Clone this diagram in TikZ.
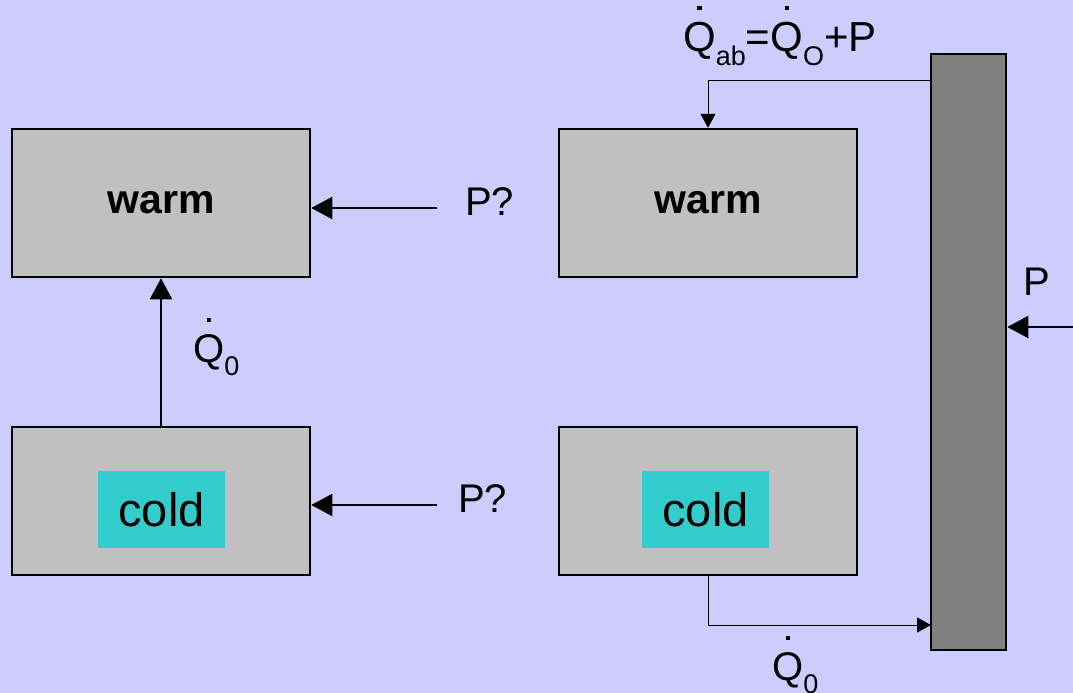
\documentclass[tikz,border=0pt]{standalone}
\usepackage{fontspec}
\setmainfont{Liberation Sans}
\usetikzlibrary{arrows.meta}
\definecolor{bgc}{HTML}{CCCCFF}
\definecolor{boxc}{HTML}{C0C0C0}
\definecolor{barc}{HTML}{808080}
\definecolor{cyanc}{HTML}{33CCCC}
\newcommand{\Qdt}{\leavevmode\hbox{\ooalign{Q\cr\hidewidth\raisebox{1.0em}{\rule{0.1em}{0.1em}}\hidewidth\cr}}}
\newcommand{\subtx}[1]{\raisebox{-0.33em}{\fontsize{27}{27}\selectfont #1}}
\tikzset{
  room/.style={draw=black, line width=2.5pt, fill=boxc, minimum width=298pt, minimum height=148pt, inner sep=0pt, font=\fontsize{41}{41}\selectfont\bfseries},
  coldbox/.style={fill=cyanc, minimum width=127pt, minimum height=77pt, inner sep=0pt, font=\fontsize{47}{47}\selectfont},
  machine/.style={draw=black, line width=2.5pt, fill=barc, minimum width=75pt, minimum height=596pt, inner sep=0pt},
  lbl/.style={anchor=base west, inner sep=0pt, font=\fontsize{40}{40}\selectfont},
  bigarrow/.style={line width=2pt, -{Triangle[length=21pt, width=22pt]}},
  thinarrow/.style={line width=1pt, -{Triangle[length=14pt, width=15pt]}}
}
\begin{document}
\begin{tikzpicture}[x=1pt, y=-1pt]
\useasboundingbox (0,0) rectangle (1073,693);
\fill[bgc] (0,0) rectangle (1073,693);
% left side
\node[room] (lw) at (161,203) {warm};
\node[room] (lc) at (161,501) {};
\node[coldbox] (lcc) at (161.5,509.5) {cold};
% right side
\node[room] (rw) at (708,203) {warm};
\node[room] (rc) at (708,501) {};
\node[coldbox] (rcc) at (705.5,509.5) {cold};
\node[machine] (bar) at (968.5,352) {};
% connectors left
\coordinate (p1) at (437,208);
\coordinate (p2) at (437,505);
\draw[bigarrow] (p1) -- (p1 -| lw.east);
\draw[bigarrow] (p2) -- (p2 -| lc.east);
\draw[bigarrow] (lc.north) -- (lw.south);
\node[lbl] (lp1) at (465,215) {P?};
\node[lbl] (lp2) at (458,512) {P?};
\node[lbl] (lq0) at (193,362) {\Qdt\subtx{0}};
% connectors right
\coordinate (t1) at (931,80);
\coordinate (b1) at (931,625);
\coordinate (pr) at (1073,327);
\draw[thinarrow] (t1) -| (rw.north);
\draw[thinarrow] (rc.south) |- (b1);
\draw[bigarrow] (pr) -- (pr -| bar.east);
\node[lbl, font=\fontsize{42}{42}\selectfont] (lqab) at (683,52) {\Qdt\subtx{ab}=\Qdt\subtx{O}+P};
\node[lbl] (lq0b) at (772,680) {\Qdt\subtx{0}};
\node[lbl] (lp) at (1023,295) {P};
\end{tikzpicture}
\end{document}
